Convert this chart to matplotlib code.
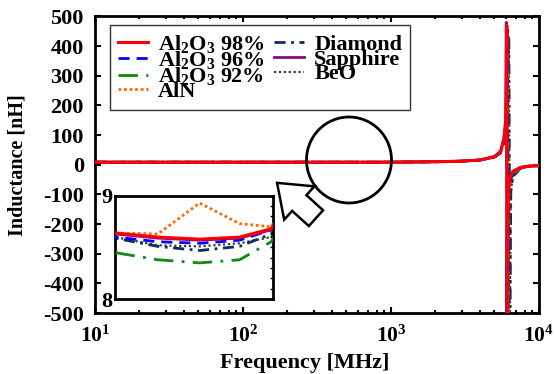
import matplotlib
matplotlib.use("Agg")
import matplotlib.pyplot as plt
from matplotlib.patches import Ellipse, FancyArrowPatch
from matplotlib.ticker import LogLocator, NullFormatter, MultipleLocator

plt.rcParams['font.family'] = ['Liberation Serif', 'DejaVu Serif']
plt.rcParams['font.weight'] = 'bold'
plt.rcParams['mathtext.fontset'] = 'custom'
plt.rcParams['mathtext.rm'] = 'Liberation Serif:bold'
plt.rcParams['mathtext.bf'] = 'Liberation Serif:bold'
plt.rcParams['mathtext.it'] = 'Liberation Serif:bold'
plt.rcParams['mathtext.default'] = 'rm'

# ---- data (frequency in MHz, inductance in nH) ----
freq = [10, 30, 100, 300, 416, 572, 775, 986, 2000, 3000, 4000, 5000, 5500,
        5800, 5950, 6020, 6071, 6120, 6167, 6215, 6265, 6364, 6460, 6668,
        7500, 8500, 10000]

al2o3_98 = [8.64, 8.64, 8.64, 8.64, 8.60, 8.58, 8.60, 8.68, 10.2, 12.0, 16, 27, 44,
            84, 130, 210, 470, -520, -200, -120, -80, -50, -38, -23, -9, -5, -3]
al2o3_96 = [8.60, 8.60, 8.60, 8.60, 8.555, 8.54, 8.57, 8.67, 10.1, 12.0, 16, 26, 42,
            78, 115, 170, 250, 455, -520, -160, -100, -60, -45, -28, -10, -5, -3]
al2o3_92 = [8.45, 8.45, 8.45, 8.45, 8.38, 8.35, 8.38, 8.555, 10.0, 11.8, 15.5, 26, 41,
            75, 105, 150, 210, 300, 420, -520, -130, -70, -50, -30, -11, -6, -3]
aln = [8.64, 8.64, 8.64, 8.64, 8.63, 8.93, 8.73, 8.70, 10.2, 12.0, 16, 27, 43,
       80, 118, 175, 255, 400, -520, -160, -100, -60, -45, -28, -10, -5, -3]
diamond = [8.59, 8.59, 8.59, 8.59, 8.51, 8.47, 8.51, 8.63, 10.0, 11.8, 15.5, 25, 40,
           72, 100, 140, 190, 250, 310, 380, 430, -520, -90, -40, -12, -6, -3]
sapphire = [8.63, 8.63, 8.63, 8.63, 8.59, 8.57, 8.59, 8.67, 10.2, 12.0, 16, 27, 45,
            90, 150, 480, -520, -220, -130, -90, -60, -45, -35, -22, -9, -5, -3]
beo = [8.60, 8.60, 8.60, 8.60, 8.52, 8.51, 8.54, 8.60, 10.0, 11.8, 15.5, 25, 40,
       72, 100, 140, 190, 250, 310, 380, 430, -520, -90, -40, -12, -6, -3]

labels = [r'Al$_2$O$_3$ 98%', r'Al$_2$O$_3$ 96%', r'Al$_2$O$_3$ 92%', 'AlN',
          'Diamond', 'Sapphire', 'BeO']
series = [al2o3_98, al2o3_96, al2o3_92, aln, diamond, sapphire, beo]
colors = ['#ff0000', '#0000ff', '#108a10', '#ff6a00', '#0a2f5c', '#8a0a8a', '#3a3a3a']
styles = ['-', (0, (4, 2.5)), (0, (7, 3, 1, 3)), (0, (1, 1)), (0, (4, 2, 1, 2)),
          '-', (0, (1, 1.2))]
widths = [2.2, 2.0, 2.0, 2.0, 2.0, 2.0, 1.6]
zorders = [7, 5, 3, 4, 2, 6, 1]

xticks = [10, 100, 1000, 10000]
xticklabels = [r'$\mathbf{10^{1}}$', r'$\mathbf{10^{2}}$', r'$\mathbf{10^{3}}$', r'$\mathbf{10^{4}}$']
yticks = list(range(-500, 501, 100))

fig = plt.figure(figsize=(5.55, 3.74), dpi=100)
ax = fig.add_axes([0.171, 0.163, 0.800, 0.793])

draw_order = [4, 6, 2, 3, 1, 5, 0]
handles = {}
for i in draw_order:
    ln, = ax.plot(freq, series[i], color=colors[i], linestyle=styles[i],
                  linewidth=widths[i], zorder=zorders[i], label=labels[i])
    handles[i] = ln

ax.set_xscale('log')
ax.set_xlim(10, 10000)
ax.set_ylim(-500, 500)
ax.set_xticks(xticks)
ax.set_xticklabels(xticklabels, fontsize=15.5)
ax.xaxis.set_minor_locator(LogLocator(base=10, subs=range(2, 10)))
ax.xaxis.set_minor_formatter(NullFormatter())
ax.set_yticks(yticks)
ax.set_yticklabels([str(v) for v in yticks], fontsize=16, fontweight='bold')
ax.tick_params(which='both', direction='in', top=True, right=True, width=1.5)
ax.tick_params(which='major', length=4)
ax.tick_params(which='minor', length=2.5)
ax.tick_params(axis='x', pad=9)
ax.tick_params(axis='y', pad=8)
for s in ax.spines.values():
    s.set_linewidth(2)
ax.set_xlabel('Frequency [MHz]', fontsize=16, fontweight='bold', labelpad=4)
ax.xaxis.set_label_coords(0.473, -0.135)
ax.set_ylabel('Inductance [nH]', fontsize=14.5, fontweight='bold', labelpad=11)

leg = ax.legend([handles[i] for i in range(7)], labels, ncol=2, loc='upper left',
                bbox_to_anchor=(0.034, 0.971), fontsize=16, frameon=True, fancybox=False,
                handlelength=1.35, handletextpad=0.45, columnspacing=0.45,
                labelspacing=-0.26, borderpad=0.35, borderaxespad=0.0)
leg.get_frame().set_edgecolor('black')
leg.get_frame().set_linewidth(1.0)
leg.set_zorder(10)

# inset
axi = fig.add_axes([0.207, 0.2005, 0.285, 0.276])
for i in draw_order:
    axi.plot(freq, series[i], color=colors[i], linestyle=styles[i],
             linewidth=widths[i], zorder=zorders[i])
axi.set_xscale('log')
axi.set_xlim(300, 1000)
axi.set_ylim(8, 9)
axi.set_xticks([])
axi.xaxis.set_minor_locator(plt.NullLocator())
axi.set_yticks([8, 9])
axi.set_yticklabels(['8', '9'], fontsize=16, fontweight='bold')
axi.yaxis.set_minor_locator(MultipleLocator(0.1))
axi.tick_params(which='both', direction='in', right=True, left=False, pad=2)
axi.tick_params(which='major', length=0)
axi.tick_params(which='minor', length=2, width=1)
for s in axi.spines.values():
    s.set_linewidth(2)

# circle and hollow arrow (figure pixel fractions, decoration only)
W, H = 555.0, 374.0
circ = Ellipse((349 / W, 1 - 160 / H), 85 / W, 86 / H, transform=fig.transFigure,
               fill=False, edgecolor='black', linewidth=2)
fig.add_artist(circ)
arr = FancyArrowPatch((318 / W, 1 - 220 / H), (275 / W, 1 - 181 / H),
                      transform=fig.transFigure,
                      arrowstyle='simple,head_length=1.2,head_width=1.8,tail_width=0.85',
                      mutation_scale=18, facecolor='white', edgecolor='black',
                      linewidth=1.8, joinstyle='miter')
fig.add_artist(arr)

fig.savefig('out.png', dpi=100)
